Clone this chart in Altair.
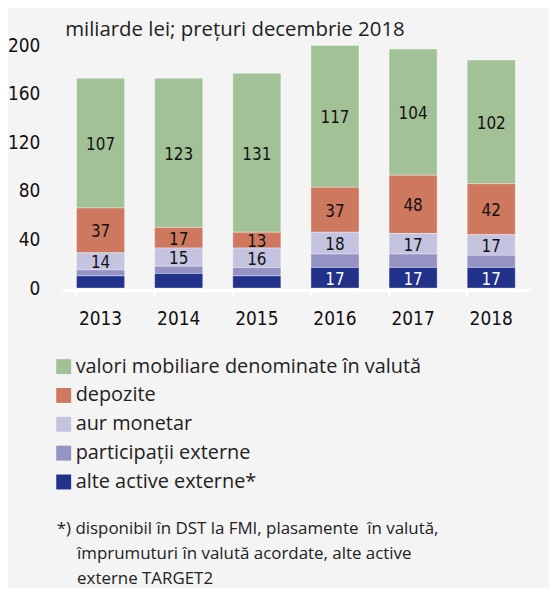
import altair as alt
import pandas as pd

years = ["2013", "2014", "2015", "2016", "2017", "2018"]
categories = [
    "valori mobiliare denominate în valută",
    "depozite",
    "aur monetar",
    "participații externe",
    "alte active externe*",
]
colors = ["#a3c197", "#cd785f", "#c4c3e0", "#9592c4", "#22318a"]

valori = [107, 123, 131, 117, 104, 102]
depozite = [37, 17, 13, 37, 48, 42]
aur = [14, 15, 16, 18, 17, 17]
participatii = [5, 6, 7, 11, 11, 10]
alte = [10, 12, 10, 17, 17, 17]

series = [valori, depozite, aur, participatii, alte]
y_ticks = [0, 40, 80, 120, 160, 200]

INDENT = "\u200b" + "\u00a0" * 4 + "\u2009"
footnote = [
    "*) disponibil în DST la FMI, plasamente\u00a0 în valută,",
    INDENT + "împrumuturi în valută acordate, alte active",
    INDENT + "externe TARGET2",
]

rows = []
for ci, (cat, vals) in enumerate(zip(categories, series)):
    for y, v in zip(years, vals):
        rows.append({"year": y, "cat": cat, "value": v, "ord": 4 - ci})
df = pd.DataFrame(rows)

NUM_FONT = "DejaVu Sans Condensed, Noto Sans, sans-serif"
TXT_FONT = "Open Sans"

color_scale = alt.Scale(domain=categories, range=colors)

bars = alt.Chart(df).mark_bar(
    stroke="white", strokeWidth=0.6, strokeOpacity=0.6
).encode(
    x=alt.X("year:N", title=None,
            scale=alt.Scale(paddingInner=0.385, paddingOuter=0.19),
            axis=alt.Axis(labelAngle=0, labelFont=NUM_FONT, labelFontSize=19,
                          labelColor="#111", labelPadding=14,
                          domainColor="white", domainWidth=3,
                          tickColor="white", tickWidth=3, tickSize=6,
                          bandPosition=0, offset=2)),
    y=alt.Y("value:Q", stack="zero",
            scale=alt.Scale(domain=[0, 200], nice=False),
            axis=alt.Axis(values=y_ticks, grid=False, domain=False, ticks=False,
                          labelFont=NUM_FONT, labelFontSize=19, labelColor="#111",
                          labelPadding=22,
                          title="miliarde lei; prețuri decembrie 2018",
                          titleAngle=0, titleX=3, titleY=-16,
                          titleAlign="left", titleBaseline="middle",
                          titleFont=TXT_FONT, titleFontSize=20.5,
                          titleFontWeight="normal", titleColor="#222")),
    color=alt.Color("cat:N", scale=color_scale, sort=categories,
                    legend=alt.Legend(title=None, orient="none",
                                      legendX=-8, legendY=313,
                                      symbolType="square", symbolSize=225,
                                      symbolStrokeWidth=0,
                                      labelFont=TXT_FONT, labelFontSize=20,
                                      labelColor="#222", labelOffset=2,
                                      rowPadding=9, labelLimit=500)),
    order=alt.Order("ord:Q", sort="ascending"),
)

labels = alt.Chart(df).transform_stack(
    stack="value", groupby=["year"], sort=[alt.SortField("ord", "ascending")],
    as_=["y0", "y1"]
).transform_calculate(
    mid="(datum.y0 + datum.y1) / 2"
).transform_filter(
    "datum.value >= 13"
).mark_text(font=NUM_FONT, fontSize=17, dy=2).encode(
    x=alt.X("year:N"),
    y=alt.Y("mid:Q"),
    text=alt.Text("value:Q"),
    color=alt.condition(f"datum.cat == '{categories[4]}'",
                        alt.value("white"), alt.value("#111")),
)

chart = alt.layer(bars, labels).properties(
    width=471, height=244,
    background="#f4f4f4",
    padding={"left": 54, "top": 36, "right": 19, "bottom": 300},
    autosize=alt.AutoSizeParams(type="none"),
    title=alt.TitleParams(text=footnote, orient="bottom", anchor="start",
                          frame="group",
                          font=TXT_FONT, fontSize=17, fontWeight="normal",
                          color="#222", lineHeight=25.5, offset=29, dx=-5),
).configure_view(stroke=None)

chart.save("out.html", embed_options={"renderer": "svg", "actions": False})
